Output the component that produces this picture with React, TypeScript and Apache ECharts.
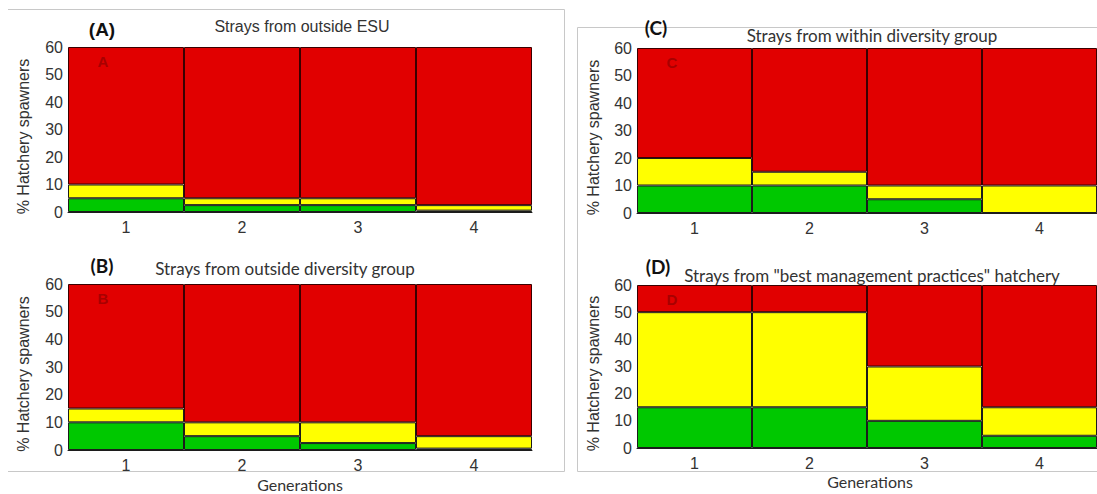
import React, { useEffect, useRef } from "react";
import * as echarts from "echarts";

const generations = ["1", "2", "3", "4"];
const yTicks = [0, 10, 20, 30, 40, 50, 60];

// Segment heights (% hatchery spawners) per generation; red fills up to 60
const greenA = [5, 2.5, 2.5, 0.5];
const yellowA = [5, 2.5, 2.5, 2];
const greenB = [10, 5, 2.5, 0.5];
const yellowB = [5, 5, 7.5, 4.5];
const greenC = [10, 10, 5, 0];
const yellowC = [10, 5, 5, 10];
const greenD = [15, 15, 10, 4.5];
const yellowD = [35, 35, 20, 10.5];

const panelTitles = [
  "Strays from outside ESU",
  "Strays from outside diversity group",
  "Strays from within diversity group",
  "Strays from \"best management practices\" hatchery",
];
const panelTags = ["(A)", "(B)", "(C)", "(D)"];
const panelLetters = ["A", "B", "C", "D"];

const RED = "#e10000";
const YELLOW = "#ffff00";
const GREEN = "#00c800";
const BORDER = "#1c1c1c";
const ARIAL = "'Liberation Sans', Arial, sans-serif";
const CAL = "Lato, 'Open Sans', sans-serif";

export default function App() {
  const ref = useRef<HTMLDivElement>(null);

  useEffect(() => {
    document.body.style.margin = "0";
    if (!ref.current) return;
    const chart = echarts.init(ref.current, null, { renderer: "svg" });

    const grids = [
      { left: 68, top: 47, width: 464, height: 165 },
      { left: 68, top: 284, width: 464, height: 166 },
      { left: 637, top: 48, width: 466, height: 165 },
      { left: 637, top: 285, width: 466, height: 163 },
    ];
    const greens = [greenA, greenB, greenC, greenD];
    const yellows = [yellowA, yellowB, yellowC, yellowD];

    const xAxis = grids.map((_, i) => ({
      type: "category",
      gridIndex: i,
      data: generations,
      axisTick: { show: false },
      axisLine: { show: true, lineStyle: { color: BORDER, width: 1 } },
      axisLabel: { fontSize: 16, color: "#333", fontFamily: ARIAL, margin: 7 },
    }));
    const yAxis = grids.map((_, i) => ({
      type: "value",
      gridIndex: i,
      min: yTicks[0],
      max: yTicks[yTicks.length - 1],
      interval: 10,
      splitLine: { show: false },
      axisTick: { show: false },
      axisLine: { show: false },
      axisLabel: { fontSize: 16, color: "#333", fontFamily: ARIAL, margin: 5 },
    }));

    const series: any[] = [];
    grids.forEach((_, i) => {
      const g = greens[i];
      const y = yellows[i];
      const r = g.map((v, k) => yTicks[yTicks.length - 1] - v - y[k]);
      const common = {
        type: "bar",
        xAxisIndex: i,
        yAxisIndex: i,
        stack: "p" + i,
        barCategoryGap: "0%",
        itemStyle: { borderColor: BORDER, borderWidth: 1 },
      };
      series.push({ ...common, name: "green" + i, data: g, itemStyle: { ...common.itemStyle, color: GREEN } });
      series.push({ ...common, name: "yellow" + i, data: y, itemStyle: { ...common.itemStyle, color: YELLOW } });
      series.push({ ...common, name: "red" + i, data: r, itemStyle: { ...common.itemStyle, color: RED, borderColor: "#3a0000" } });
    });

    const frameStyle = { stroke: "#c8c8c8", lineWidth: 1 };
    const graphic: any[] = [
      // left frame (A + B)
      { type: "line", shape: { x1: 8, y1: 9.5, x2: 564.5, y2: 9.5 }, style: frameStyle },
      { type: "line", shape: { x1: 564.5, y1: 9.5, x2: 564.5, y2: 471.5 }, style: frameStyle },
      { type: "line", shape: { x1: 8, y1: 471.5, x2: 564.5, y2: 471.5 }, style: frameStyle },
      // right frame (C + D)
      { type: "line", shape: { x1: 577.5, y1: 27.5, x2: 1097, y2: 27.5 }, style: frameStyle },
      { type: "line", shape: { x1: 577.5, y1: 27.5, x2: 577.5, y2: 471.5 }, style: frameStyle },
      { type: "line", shape: { x1: 577.5, y1: 471.5, x2: 1097, y2: 471.5 }, style: frameStyle },
    ];

    const tagPos = [
      { x: 102, y: 29, ff: ARIAL },
      { x: 102, y: 265, ff: CAL },
      { x: 656, y: 27, ff: CAL },
      { x: 658, y: 266, ff: CAL },
    ];
    const titlePos = [
      { x: 302, y: 26, ff: ARIAL, fs: 16 },
      { x: 285, y: 268, ff: CAL, fs: 17 },
      { x: 872, y: 35, ff: CAL, fs: 17 },
      { x: 872, y: 275, ff: CAL, fs: 17 },
    ];
    grids.forEach((gr, i) => {
      graphic.push({
        type: "text",
        x: tagPos[i].x,
        y: tagPos[i].y,
        style: {
          text: panelTags[i],
          fontSize: 19,
          fontWeight: "bold",
          fontFamily: tagPos[i].ff,
          fill: "#111",
          align: "center",
          verticalAlign: "middle",
        },
      });
      graphic.push({
        type: "text",
        x: titlePos[i].x,
        y: titlePos[i].y,
        z: 10,
        style: {
          text: panelTitles[i],
          fontSize: titlePos[i].fs,
          fontFamily: titlePos[i].ff,
          fill: "#333",
          align: "center",
          verticalAlign: "middle",
        },
      });
      graphic.push({
        type: "text",
        x: gr.left + 35,
        y: gr.top + 14,
        z: 10,
        style: {
          text: panelLetters[i],
          fontSize: 15,
          fontFamily: ARIAL,
          fontWeight: "bold",
          fill: "#a80000",
          align: "center",
          verticalAlign: "middle",
        },
      });
      graphic.push({
        type: "text",
        x: i < 2 ? 23 : 593,
        y: gr.top + gr.height / 2 + 7,
        rotation: Math.PI / 2,
        style: {
          text: "% Hatchery spawners",
          fontSize: 16,
          fontFamily: ARIAL,
          fill: "#333",
          align: "center",
          verticalAlign: "middle",
        },
      });
    });
    graphic.push({
      type: "text",
      x: 300,
      y: 484,
      style: { text: "Generations", fontSize: 16, fontFamily: CAL, fill: "#333", align: "center", verticalAlign: "middle" },
    });
    graphic.push({
      type: "text",
      x: 870,
      y: 481,
      style: { text: "Generations", fontSize: 16, fontFamily: CAL, fill: "#333", align: "center", verticalAlign: "middle" },
    });

    chart.setOption({
      animation: false,
      backgroundColor: "#ffffff",
      grid: grids.map((g) => ({ ...g, containLabel: false })),
      xAxis,
      yAxis,
      series,
      graphic,
    });

    return () => chart.dispose();
  }, []);

  return <div ref={ref} style={{ width: 1097, height: 494 }} />;
}
